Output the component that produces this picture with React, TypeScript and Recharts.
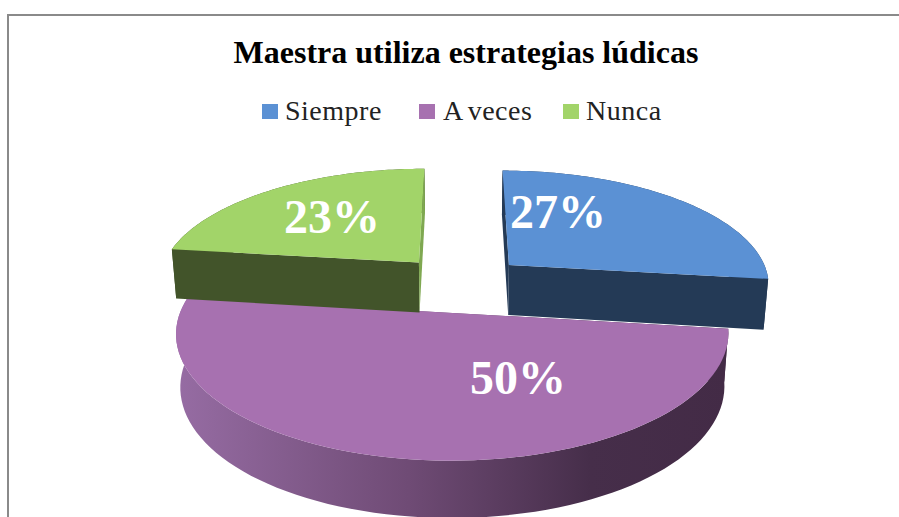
import React from "react";
import { PieChart, Pie, Legend } from "recharts";

const TITLE = "Maestra utiliza estrategias lúdicas";
const CATEGORIES = ["Siempre", "A veces", "Nunca"];
const PERCENTS = [27, 50, 23];
const TOP_COLORS = ["#5b91d4", "#a771b0", "#a2d469"];
const WALL_COLORS = ["#243a56", "url(#purpleWall)", "#42542a"];
const BACK_EDGE_COLORS = ["#243a56", "#442c47", "#7fa851"];

// front slice has to be painted first, the two back ones overlap it
const DRAW_ORDER = [1, 2, 0];

const LEGEND_SWATCH_X = [262, 419, 563];
const LEGEND_TEXT_X = [285, 443, 586];
const LABEL_POS = [
  { x: 558, y: 228 },
  { x: 518, y: 394 },
  { x: 332, y: 233 },
];

// fake 3D: perspective, squash and explosion of the slices
const PERSPECTIVE = 0.156;
const SQUASH = 0.4366;
const EXPLODE = 0.25;
const BOTTOM_SCALE = 0.985;

const tableData = DRAW_ORDER.map((i) => ({
  name: CATEGORIES[i],
  value: PERCENTS[i],
  fill: TOP_COLORS[i],
  sourceIndex: i,
}));

const firstAngle = 90 - (360 * PERCENTS[0]) / 100;

function project(cx: number, cy: number, r: number, u: number, v: number, bottom: boolean) {
  const d = 1 + PERSPECTIVE * v;
  const x = (r * u) / d;
  const y = (r * SQUASH * v) / d;
  if (!bottom) return [cx + x, cy - y];
  return [cx + x * BOTTOM_SCALE, cy - y * BOTTOM_SCALE + 51 - 7.2 * v];
}

function Slice3D(props: any) {
  const { cx, cy, outerRadius: r, startAngle, endAngle, name } = props;
  const idx = CATEGORIES.indexOf(name);
  const mid = ((startAngle + endAngle) / 2) * (Math.PI / 180);
  const ou = EXPLODE * Math.cos(mid);
  const ov = EXPLODE * Math.sin(mid);

  const pt = (deg: number, radius: number, bottom: boolean) => {
    const a = (deg * Math.PI) / 180;
    return project(cx, cy, r, ou + radius * Math.cos(a), ov + radius * Math.sin(a), bottom);
  };
  const toPath = (pts: number[][]) =>
    "M" + pts.map((p) => `${p[0].toFixed(2)},${p[1].toFixed(2)}`).join("L") + "Z";

  const steps = 80;
  const angles = Array.from({ length: steps + 1 }, (_, i) => startAngle + ((endAngle - startAngle) * i) / steps);
  const topArc = angles.map((a) => pt(a, 1, false));
  const bottomArc = angles.map((a) => pt(a, 1, true));

  const radialWall = (deg: number) =>
    toPath([pt(deg, 0, false), pt(deg, 1, false), pt(deg, 1, true), pt(deg, 0, true)]);
  const isBack = (deg: number) => Math.sin((deg * Math.PI) / 180) > 0.5;

  return (
    <g>
      <defs>
        <linearGradient id="purpleWall" gradientUnits="userSpaceOnUse" x1={177} y1={0} x2={728} y2={0}>
          <stop offset="0" stopColor="#966ca3" />
          <stop offset="0.42" stopColor="#6f4b75" />
          <stop offset="0.75" stopColor="#462e4a" />
          <stop offset="1" stopColor="#432b46" />
        </linearGradient>
      </defs>
      <path d={toPath([...topArc, ...bottomArc.slice().reverse()])} fill={WALL_COLORS[idx]} />
      {[startAngle, endAngle].map((deg) => (
        <path key={deg} d={radialWall(deg)} fill={isBack(deg) ? BACK_EDGE_COLORS[idx] : WALL_COLORS[idx]} />
      ))}
      <path d={toPath([pt(startAngle, 0, false), ...topArc])} fill={TOP_COLORS[idx]} />
    </g>
  );
}

function renderLabel(props: any) {
  const idx = CATEGORIES.indexOf(props.name);
  const pos = LABEL_POS[idx];
  return (
    <text
      x={pos.x}
      y={pos.y}
      textAnchor="middle"
      fill="#ffffff"
      fontFamily="'Liberation Serif', serif"
      fontWeight={700}
      fontSize={48}
    >
      {`${PERCENTS[idx]}%`}
    </text>
  );
}

function LegendRow() {
  return (
    <div style={{ position: "relative", width: 899, height: 40 }}>
      {CATEGORIES.map((name, i) => (
        <React.Fragment key={name}>
          <div
            style={{
              position: "absolute",
              left: LEGEND_SWATCH_X[i],
              top: 9,
              width: 16,
              height: 15,
              background: TOP_COLORS[i],
            }}
          />
          <div
            style={{
              position: "absolute",
              left: LEGEND_TEXT_X[i],
              top: 0,
              fontFamily: "'Liberation Serif', serif",
              fontSize: 28,
              lineHeight: "32px",
              letterSpacing: 0.5,
              wordSpacing: -2,
              color: "#222222",
              whiteSpace: "nowrap",
            }}
          >
            {name}
          </div>
        </React.Fragment>
      ))}
    </div>
  );
}

export default function App() {
  return (
    <div style={{ position: "fixed", left: 0, top: 0, width: 899, height: 517, background: "#fff", overflow: "hidden" }}>
      <div
        style={{
          position: "absolute",
          left: 7,
          top: 14,
          right: 0,
          bottom: 0,
          borderTop: "2px solid #8a8a8a",
          borderLeft: "2px solid #8a8a8a",
        }}
      />
      <PieChart width={899} height={517} margin={{ top: 0, right: 0, bottom: 0, left: 0 }}>
        <text
          x={466}
          y={63}
          textAnchor="middle"
          fontFamily="'Liberation Serif', serif"
          fontWeight={700}
          fontSize={32}
          fill="#000000"
        >
          {TITLE}
        </text>
        <Legend
          layout="horizontal"
          align="center"
          verticalAlign="middle"
          content={() => <LegendRow />}
          wrapperStyle={{ left: 0, top: 95, width: 899, height: 40 }}
        />
        <Pie
          data={tableData}
          dataKey="value"
          nameKey="name"
          cx={461}
          cy={283.4}
          outerRadius={262}
          startAngle={firstAngle}
          endAngle={firstAngle - 360}
          stroke="none"
          shape={Slice3D}
          label={renderLabel}
          labelLine={false}
          isAnimationActive={false}
        />
      </PieChart>
    </div>
  );
}
